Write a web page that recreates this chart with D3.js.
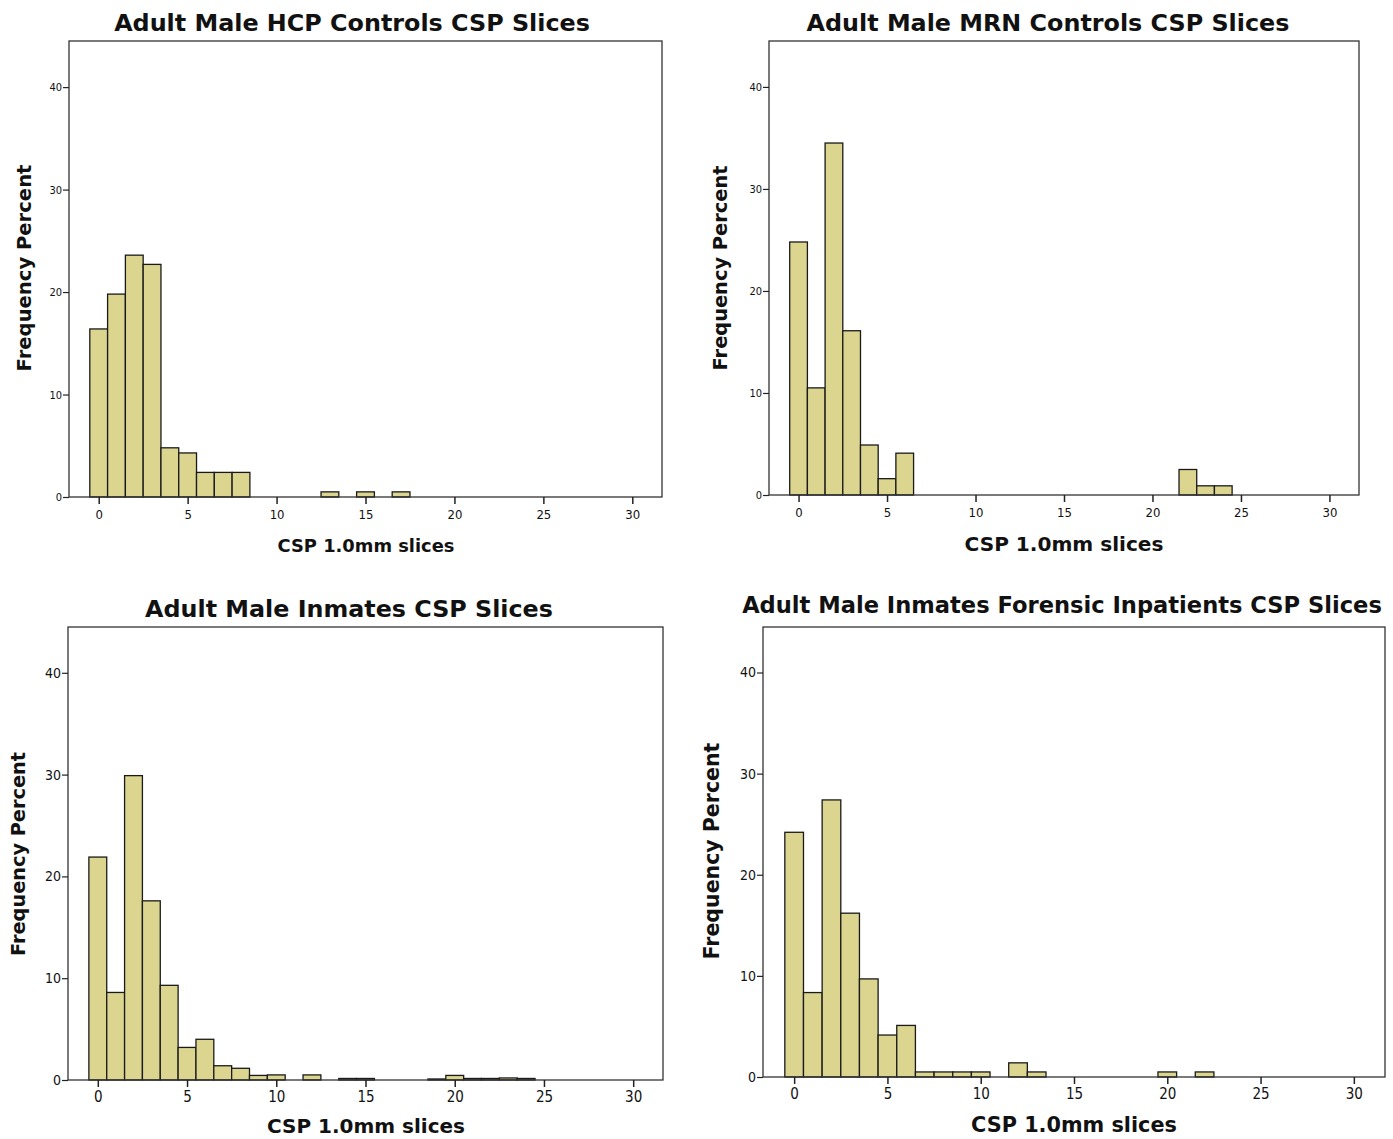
<!DOCTYPE html>
<html lang="en">
<head>
  <meta charset="UTF-8">
  <title>CSP slices</title>
  <script src="https://cdn.jsdelivr.net/npm/d3@7"></script>
  <style>
    body { margin: 0; background: #fff; }
    .tick-txt { font-family: "Liberation Sans Narrow", "DejaVu Sans Condensed", sans-serif; fill: #111; }
    .lbl { font-family: "DejaVu Sans", sans-serif; font-weight: bold; fill: #111; }
  </style>
</head>
<body>
  <div class="canvas"></div>
  <script>
    // bins are CSP slice counts 0..24, values are percent of subjects
    const bins = d3.range(0, 25);
    const xTicks = [0, 5, 10, 15, 20, 25, 30];
    const yTicks = [0, 10, 20, 30, 40];

    const titles = [
      'Adult Male HCP Controls CSP Slices',
      'Adult Male MRN Controls CSP Slices',
      'Adult Male Inmates CSP Slices',
      'Adult Male Inmates Forensic Inpatients CSP Slices'
    ];
    const xLabel = 'CSP 1.0mm slices';
    const yLabel = 'Frequency Percent';

    const hcp = [16.4, 19.8, 23.6, 22.7, 4.8, 4.3, 2.4, 2.4, 2.4, 0, 0, 0, 0, 0.5, 0, 0.5, 0, 0.5, 0, 0, 0, 0, 0, 0, 0];
    const mrn = [24.8, 10.5, 34.5, 16.1, 4.9, 1.6, 4.1, 0, 0, 0, 0, 0, 0, 0, 0, 0, 0, 0, 0, 0, 0, 0, 2.5, 0.9, 0.9];
    const inmates = [21.9, 8.6, 29.9, 17.6, 9.3, 3.2, 4.0, 1.4, 1.15, 0.45, 0.5, 0, 0.5, 0, 0.15, 0.15, 0, 0, 0, 0.1, 0.45, 0.15, 0.15, 0.2, 0.15];
    const forensic = [24.2, 8.35, 27.4, 16.2, 9.7, 4.15, 5.1, 0.5, 0.5, 0.5, 0.5, 0, 1.4, 0.5, 0, 0, 0, 0, 0, 0, 0.5, 0, 0.5, 0, 0];

    const series = [hcp, mrn, inmates, forensic];

    // layout of the four panels (frame box + text placement)
    const panels = [
      { x: 69, y: 41, w: 593, h: 456, title: [352, 31, 476], xl: [366, 552, 177], yl: [31, 268, 207], tx: 13, ty: 11, pad: 6 },
      { x: 769, y: 41, w: 590, h: 454, title: [1048, 31, 483], xl: [1064, 551, 199], yl: [727, 268, 205], tx: 13, ty: 11, pad: 6 },
      { x: 68, y: 627, w: 595, h: 453, title: [349, 617, 408], xl: [366, 1133, 198], yl: [25, 854, 204], tx: 15, ty: 14, pad: 4 },
      { x: 763, y: 627, w: 622, h: 450, title: [1062, 613, 640], xl: [1074, 1132, 206], yl: [719, 851, 217], tx: 15, ty: 14, pad: 4 }
    ];

    const fill = '#dbd58f';

    const svg = d3.select('.canvas')
      .append('svg')
      .attr('width', 1393)
      .attr('height', 1139);

    // shrink or grow a text so it spans the given width
    function fitText(t, width) {
      const w = t.node().getComputedTextLength();
      const fs = parseFloat(t.attr('font-size'));
      t.attr('font-size', fs * width / w);
    }

    panels.forEach((p, i) => {
      const x = d3.scaleLinear().domain([-1.67, 31.67]).range([p.x, p.x + p.w]);
      const y = d3.scaleLinear().domain([0, 44.5]).range([p.y + p.h, p.y]);
      const g = svg.append('g');

      const data = bins.map((b, k) => ({ bin: b, v: series[i][k] })).filter(d => d.v > 0);

      g.selectAll('rect.bar')
        .data(data)
        .enter()
        .append('rect')
        .attr('class', 'bar')
        .attr('x', d => x(d.bin - 0.5))
        .attr('width', d => x(d.bin + 0.5) - x(d.bin - 0.5))
        .attr('y', d => y(d.v))
        .attr('height', d => y(0) - y(d.v))
        .attr('fill', fill)
        .attr('stroke', '#1a1a1a')
        .attr('stroke-width', 1.3);

      // frame
      g.append('rect')
        .attr('x', p.x).attr('y', p.y)
        .attr('width', p.w).attr('height', p.h)
        .attr('fill', 'none')
        .attr('stroke', '#333')
        .attr('stroke-width', 1.3);

      const xAxis = g.append('g')
        .attr('transform', `translate(0, ${p.y + p.h})`)
        .call(d3.axisBottom(x).tickValues(xTicks).tickSize(7).tickPadding(p.pad));
      xAxis.select('.domain').remove();
      xAxis.selectAll('line').attr('stroke', '#222').attr('stroke-width', 1.5);
      xAxis.selectAll('text').attr('class', 'tick-txt').attr('font-size', p.tx).attr('font-family', null);

      const yAxis = g.append('g')
        .attr('transform', `translate(${p.x}, 0)`)
        .call(d3.axisLeft(y).tickValues(yTicks).tickSize(6).tickPadding(1));
      yAxis.select('.domain').remove();
      yAxis.selectAll('line').attr('stroke', '#222').attr('stroke-width', 1.2);
      yAxis.selectAll('text').attr('class', 'tick-txt').attr('font-size', p.ty).attr('font-family', null);

      const title = g.append('text')
        .attr('class', 'lbl')
        .attr('x', p.title[0]).attr('y', p.title[1])
        .attr('text-anchor', 'middle')
        .attr('font-size', 22)
        .text(titles[i]);
      fitText(title, p.title[2]);

      const xl = g.append('text')
        .attr('class', 'lbl')
        .attr('x', p.xl[0]).attr('y', p.xl[1])
        .attr('text-anchor', 'middle')
        .attr('font-size', 18)
        .text(xLabel);
      fitText(xl, p.xl[2]);

      const yl = g.append('text')
        .attr('class', 'lbl')
        .attr('transform', `translate(${p.yl[0]}, ${p.yl[1]}) rotate(-90)`)
        .attr('text-anchor', 'middle')
        .attr('font-size', 18)
        .text(yLabel);
      fitText(yl, p.yl[2]);
    });
  </script>
</body>
</html>
